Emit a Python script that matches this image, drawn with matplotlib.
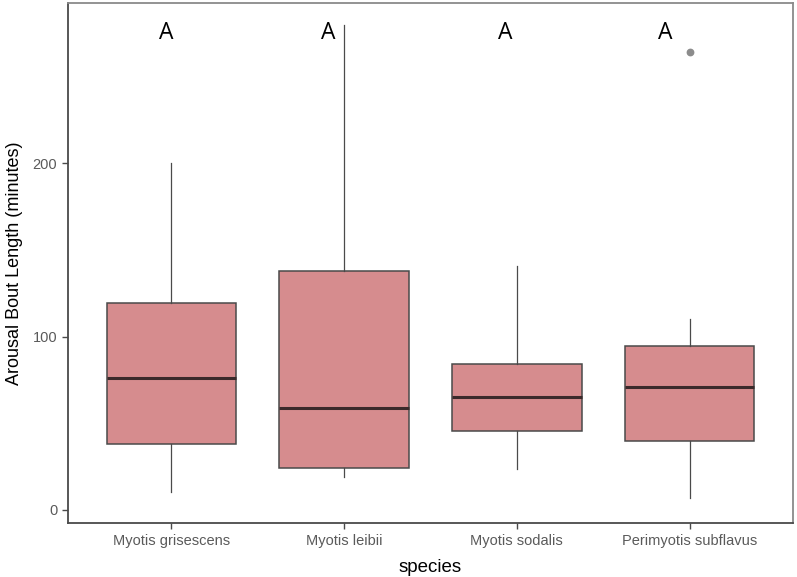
import matplotlib
matplotlib.use('Agg')
import matplotlib.pyplot as plt

plt.rcParams['font.family'] = ['Liberation Sans', 'DejaVu Sans']

species = ['Myotis grisescens', 'Myotis leibii', 'Myotis sodalis', 'Perimyotis subflavus']
whisker_low = [10.6, 19.2, 23.7, 6.7]
q1 = [37.9, 24.4, 45.8, 39.8]
medians = [76.3, 58.7, 65.4, 71.2]
q3 = [119.6, 138.1, 84.1, 94.8]
whisker_high = [200.0, 279.9, 140.8, 110.2]
outliers = [[], [], [], [264.1]]
letters = ['A', 'A', 'A', 'A']
letter_x = [0.973, 1.908, 2.932, 3.861]
letter_y = 275

fill = '#d68c8e'
edge = '#4a4a4a'

fig = plt.figure(figsize=(7.97, 5.77), dpi=100)
ax = fig.add_axes([0.0849, 0.0931, 0.9104, 0.9009])

stats = []
for i, name in enumerate(species):
    stats.append({'label': name, 'whislo': whisker_low[i], 'q1': q1[i], 'med': medians[i],
                  'q3': q3[i], 'whishi': whisker_high[i], 'fliers': outliers[i]})

ax.bxp(stats, positions=[1, 2, 3, 4], widths=0.75, patch_artist=True, showcaps=False,
       boxprops=dict(facecolor=fill, edgecolor=edge, linewidth=1.1),
       medianprops=dict(color='#3b2a2b', linewidth=2.2, solid_capstyle='butt'),
       whiskerprops=dict(color='#4a4a4a', linewidth=0.9),
       flierprops=dict(marker='o', markerfacecolor='#8c8c8c', markeredgecolor='#8c8c8c',
                       markersize=4.6))

# significance letters above each box
for x, t in zip(letter_x, letters):
    ax.text(x, letter_y, t, ha='center', va='center', fontsize=16.5, color='black',
            family='Open Sans')

ax.set_xlim(0.4, 4.6)
ax.set_ylim(-7.7, 292.3)
ax.set_yticks([0, 100, 200])
ax.set_xticks([1, 2, 3, 4])
ax.set_xticklabels(species)

for s in ['left', 'bottom']:
    ax.spines[s].set_color('#4a4a4a')
    ax.spines[s].set_linewidth(1.3)
for s in ['top', 'right']:
    ax.spines[s].set_color('#8a8a8a')
    ax.spines[s].set_linewidth(1.3)

ax.tick_params(axis='both', colors='#4a4a4a', labelcolor='#5a5a5a', labelsize=10.5,
               length=4, width=1.0)

ax.set_ylabel('Arousal Bout Length (minutes)', fontsize=13, color='black', labelpad=7)
ax.set_xlabel('species', fontsize=13.5, color='black', labelpad=8)

plt.savefig('out.png', dpi=100)
